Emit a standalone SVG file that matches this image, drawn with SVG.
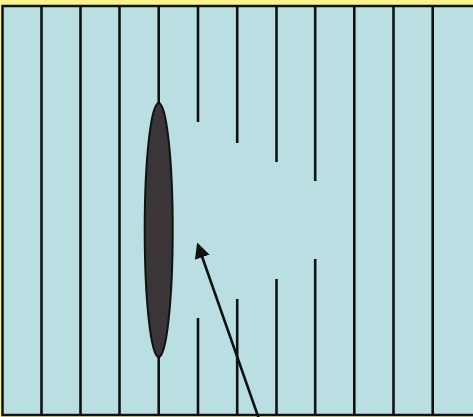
<svg xmlns="http://www.w3.org/2000/svg" width="473" height="417" viewBox="0 0 473 417">
<defs>
<style>
.grid line{stroke:#111;stroke-width:2.6}
.arrow{stroke:#111;stroke-width:2.6;fill:none}
</style>
<marker id="ah" markerWidth="6" markerHeight="6" refX="5" refY="3" orient="auto" markerUnits="strokeWidth"><path d="M0,0 L6,3 L0,6 Z" fill="#111"/></marker>
</defs>
<rect x="0" y="0" width="473" height="417" fill="#fbf38f"/>
<rect id="frame" x="2.5" y="6" width="472" height="409" fill="#b9dfe3" stroke="#111" stroke-width="2.5"/>
<g id="grid" class="grid">
<line x1="41.5" y1="6" x2="41.5" y2="415"/>
<line x1="80.5" y1="6" x2="80.5" y2="415"/>
<line x1="119.5" y1="6" x2="119.5" y2="415"/>
<line x1="158.7" y1="6" x2="158.7" y2="415"/>
<line x1="198" y1="6" x2="198" y2="122"/>
<line x1="198" y1="318" x2="198" y2="415"/>
<line x1="237.2" y1="6" x2="237.2" y2="143"/>
<line x1="237.2" y1="299" x2="237.2" y2="415"/>
<line x1="276.5" y1="6" x2="276.5" y2="162"/>
<line x1="276.5" y1="279" x2="276.5" y2="415"/>
<line x1="315.2" y1="6" x2="315.2" y2="181"/>
<line x1="315.2" y1="259" x2="315.2" y2="415"/>
<line x1="354.3" y1="6" x2="354.3" y2="415"/>
<line x1="393.5" y1="6" x2="393.5" y2="415"/>
<line x1="432.7" y1="6" x2="432.7" y2="415"/>
</g>
<g id="ellipse">
<ellipse cx="158.7" cy="230" rx="14" ry="127" fill="#3a3637" stroke="#111" stroke-width="2"/>
</g>
<g id="connectors">
<line class="arrow" x1="259" y1="419" x2="198" y2="245" marker-end="url(#ah)"/>
</g>
</svg>
